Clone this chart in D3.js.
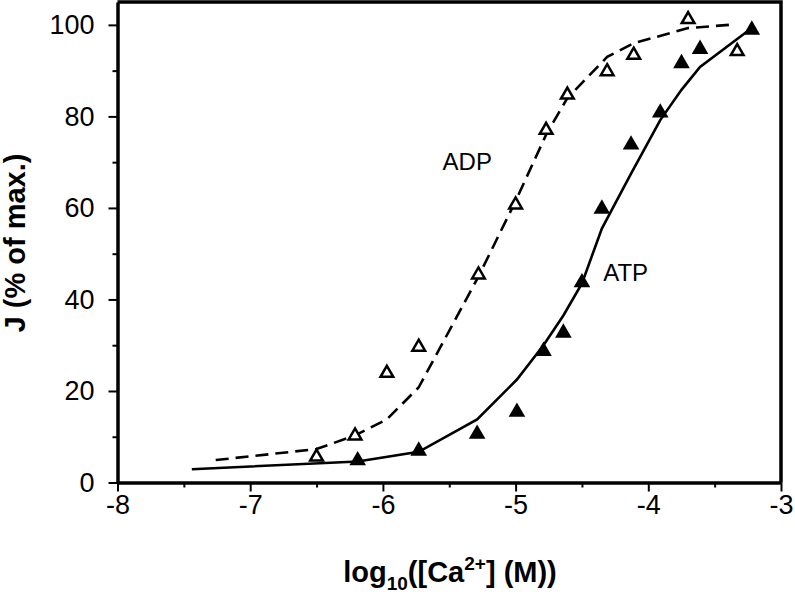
<!DOCTYPE html>
<html>
<head>
<meta charset="utf-8">
<script src="https://cdn.jsdelivr.net/npm/d3@7"></script>
<style>
  body { margin: 0; background: #fff; }
  text { font-family: "Liberation Sans", Arial, sans-serif; fill: #000; }
</style>
</head>
<body>
<svg width="795" height="595"></svg>
<script>

// ADP (open triangles), measured points
var adpX = [-6.50, -6.21, -5.97, -5.73, -5.28, -5.00, -4.77, -4.61, -4.31, -4.11, -3.70, -3.33];
var adpY = [5.6, 10.2, 23.9, 29.6, 45.4, 60.7, 77.0, 84.7, 89.8, 93.4, 101.2, 94.2];

// ATP (filled triangles), measured points
var atpX = [-6.19, -5.73, -5.29, -4.99, -4.79, -4.64, -4.50, -4.35, -4.13, -3.91, -3.75, -3.61, -3.22];
var atpY = [4.8, 6.9, 10.6, 15.4, 28.7, 32.7, 43.7, 59.8, 73.8, 80.8, 91.6, 94.7, 98.9];

// fitted curves
var adpFitX = [-7.26, -6.50, -6.21, -5.97, -5.73, -5.28, -5.00, -4.77, -4.61, -4.31, -4.11, -3.70, -3.39];
var adpFitY = [4.9, 7.3, 10.3, 13.8, 20.8, 45.0, 61.5, 76.0, 84.0, 93.0, 96.0, 99.3, 100.0];

var atpFitX = [-7.44, -6.19, -5.73, -5.29, -4.99, -4.79, -4.64, -4.50, -4.35, -4.13, -3.91, -3.75, -3.61, -3.22];
var atpFitY = [2.9, 4.6, 6.7, 13.8, 22.5, 30.0, 36.5, 43.5, 55.5, 67.5, 79.2, 85.8, 90.8, 99.3];

var xTicks = [-8, -7, -6, -5, -4, -3];
var yTicks = [0, 20, 40, 60, 80, 100];

var svg = d3.select("svg"),
    pLeft = 117.5, pRight = 781, pTop = 2, pBottom = 482.5;

var x = d3.scaleLinear().domain([-8, -3]).range([pLeft, pRight]);
var y = d3.scaleLinear().domain([0, 105]).range([pBottom, pTop]);

function zip(a, b) { return a.map(function(v, i) { return [v, b[i]]; }); }

// frame (top + right)
svg.append("path")
  .attr("d", "M" + pLeft + "," + pTop + "H" + pRight + "V" + pBottom)
  .attr("fill", "none")
  .attr("stroke", "#000")
  .attr("stroke-width", 3.5);

// minor ticks
svg.append("g")
  .attr("transform", "translate(0," + pBottom + ")")
  .call(d3.axisBottom(x).tickValues(d3.range(-7.5, -3, 1)).tickSize(5).tickFormat(""))
  .call(function(g) { g.select(".domain").remove(); g.selectAll("line").attr("stroke-width", 2); });

svg.append("g")
  .attr("transform", "translate(" + pLeft + ",0)")
  .call(d3.axisLeft(y).tickValues(d3.range(10, 100, 20)).tickSize(5).tickFormat(""))
  .call(function(g) { g.select(".domain").remove(); g.selectAll("line").attr("stroke-width", 2); });

// major axes
var xAxis = svg.append("g")
  .attr("transform", "translate(0," + pBottom + ")")
  .call(d3.axisBottom(x).tickValues(xTicks).tickSize(9).tickSizeOuter(0).tickPadding(3)
    .tickFormat(function(d) { return String(d); }));
xAxis.select(".domain").attr("stroke-width", 3.5);
xAxis.selectAll("line").attr("stroke-width", 2);
xAxis.selectAll("text").style("font-size", "27px").attr("dy", "0.72em");

var yAxis = svg.append("g")
  .attr("transform", "translate(" + pLeft + ",0)")
  .call(d3.axisLeft(y).tickValues(yTicks).tickSize(9).tickSizeOuter(0).tickPadding(14));
yAxis.select(".domain").attr("stroke-width", 3.5);
yAxis.selectAll("line").attr("stroke-width", 2);
yAxis.selectAll("text").style("font-size", "27px");

// curves
var line = d3.line().x(function(d) { return x(d[0]); }).y(function(d) { return y(d[1]); });

svg.append("path")
  .datum(zip(adpFitX, adpFitY))
  .attr("d", line)
  .attr("fill", "none")
  .attr("stroke", "#000")
  .attr("stroke-width", 2.6)
  .attr("stroke-dasharray", "13,7");

svg.append("path")
  .datum(zip(atpFitX, atpFitY))
  .attr("d", line)
  .attr("fill", "none")
  .attr("stroke", "#000")
  .attr("stroke-width", 2.6);

// markers
var triOpen = d3.symbol().type(d3.symbolTriangle).size(70);
var triFull = d3.symbol().type(d3.symbolTriangle).size(120);

svg.append("g").selectAll("path")
  .data(zip(adpX, adpY))
  .enter().append("path")
  .attr("d", triOpen)
  .attr("transform", function(d) { return "translate(" + x(d[0]) + "," + y(d[1]) + ")"; })
  .attr("fill", "#fff")
  .attr("stroke", "#000")
  .attr("stroke-width", 2.5);

svg.append("g").selectAll("path")
  .data(zip(atpX, atpY))
  .enter().append("path")
  .attr("d", triFull)
  .attr("transform", function(d) { return "translate(" + x(d[0]) + "," + y(d[1]) + ")"; })
  .attr("fill", "#000");

// series labels
svg.append("text")
  .attr("x", x(-5.55)).attr("y", y(68.3))
  .style("font-size", "24px")
  .text("ADP");

svg.append("text")
  .attr("x", x(-4.34)).attr("y", y(44))
  .style("font-size", "24px")
  .text("ATP");

// axis titles
svg.append("text")
  .attr("transform", "translate(25,243) rotate(-90)")
  .attr("text-anchor", "middle")
  .style("font-size", "29px")
  .style("font-weight", "bold")
  .text("J (% of max.)");

var xt = svg.append("text")
  .attr("x", 450)
  .attr("y", 582)
  .attr("text-anchor", "middle")
  .style("font-size", "29px")
  .style("font-weight", "bold");
xt.append("tspan").text("log");
xt.append("tspan").attr("dy", 8).style("font-size", "19px").text("10");
xt.append("tspan").attr("dy", -8).text("([Ca");
xt.append("tspan").attr("dy", -12).style("font-size", "19px").text("2+");
xt.append("tspan").attr("dy", 12).text("] (M))");

</script>
</body>
</html>
